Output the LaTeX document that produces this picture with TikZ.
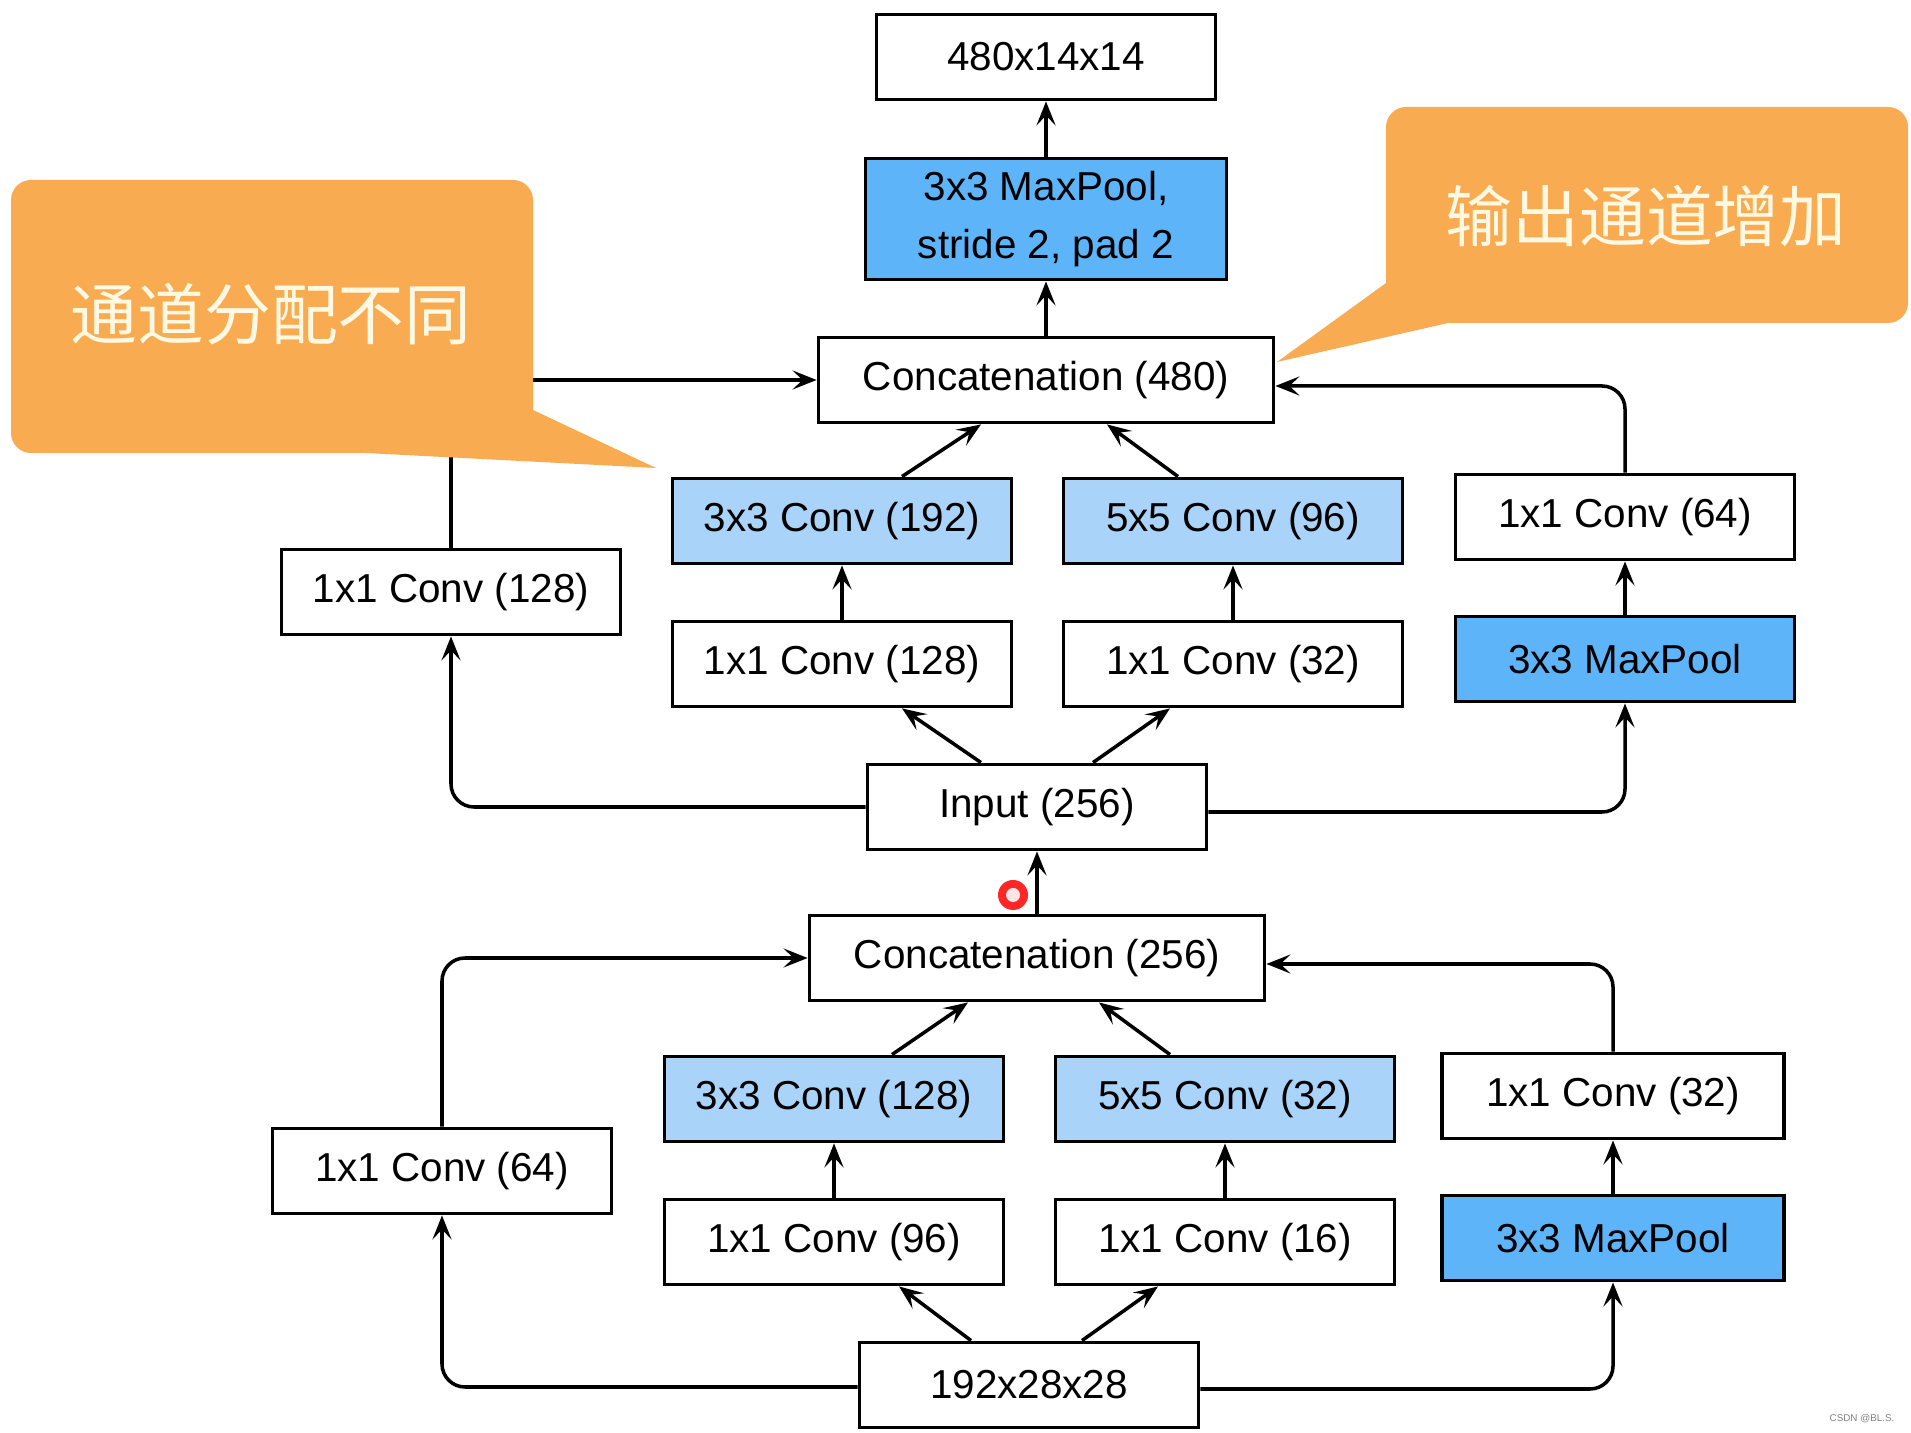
\documentclass[tikz,border=0pt]{standalone}
\usepackage{fontspec}
\setmainfont{Liberation Sans}
\newfontfamily\cjkfont{Noto Sans CJK SC}
\usetikzlibrary{arrows.meta}

\definecolor{poolblue}{HTML}{5DB4F9}
\definecolor{convblue}{HTML}{A9D3F8}
\definecolor{callorange}{HTML}{F8AB50}
\definecolor{callcream}{HTML}{FFF9E3}

\begin{document}
\begin{tikzpicture}[
        layerbox/.style={draw, line width=1.1pt, minimum width=3.39cm, minimum height=0.85cm,
            inner sep=0pt, font=\fontsize{11.5}{16.5}\selectfont},
        convbox/.style={layerbox, fill=convblue},
        poolbox/.style={layerbox, fill=poolblue},
        catbox/.style={layerbox, minimum width=4.55cm},
        arr/.style={line width=1pt, -{Stealth[length=2.4mm, width=1.9mm, inset=1mm]}},
        elbow/.style={arr, rounded corners=2.3mm},
        callout/.style={fill=callorange},
        calltext/.style={text=callcream, font=\cjkfont\fontsize{19}{19}\selectfont}
    ]
        \useasboundingbox (0, 0) rectangle (19.11, -14.33);

        \node [layerbox] (out) at (10.46, -0.57) {480x14x14};
        \node [poolbox, minimum width=3.61cm, minimum height=1.21cm, align=center] (pool2) at (10.46, -2.19) {3x3 MaxPool,\\stride 2, pad 2};
        \node [catbox] (cat2) at (10.46, -3.80) {Concatenation (480)};
        \node [convbox] (c3b) at (8.42, -5.21) {3x3 Conv (192)};
        \node [convbox] (c5b) at (12.33, -5.21) {5x5 Conv (96)};
        \node [layerbox] (p1b) at (16.25, -5.17) {1x1 Conv (64)};
        \node [layerbox] (a1b) at (4.51, -5.92) {1x1 Conv (128)};
        \node [layerbox] (r3b) at (8.42, -6.64) {1x1 Conv (128)};
        \node [layerbox] (r5b) at (12.33, -6.64) {1x1 Conv (32)};
        \node [poolbox] (mpb) at (16.25, -6.59) {3x3 MaxPool};
        \node [layerbox] (inb) at (10.37, -8.07) {Input (256)};

        \node [catbox] (cat1) at (10.37, -9.58) {Concatenation (256)};
        \node [convbox] (c3a) at (8.34, -10.99) {3x3 Conv (128)};
        \node [convbox] (c5a) at (12.25, -10.99) {5x5 Conv (32)};
        \node [layerbox, minimum width=3.42cm] (p1a) at (16.13, -10.96) {1x1 Conv (32)};
        \node [layerbox] (a1a) at (4.42, -11.71) {1x1 Conv (64)};
        \node [layerbox] (r3a) at (8.34, -12.42) {1x1 Conv (96)};
        \node [layerbox] (r5a) at (12.25, -12.42) {1x1 Conv (16)};
        \node [poolbox, minimum width=3.42cm] (mpa) at (16.13, -12.38) {3x3 MaxPool};
        \node [layerbox] (ina) at (10.29, -13.85) {192x28x28};

        \draw [arr] (pool2.north) -- (out.south);
        \draw [arr] (cat2.north) -- (pool2.south);
        \draw [arr] (a1b.north) |- (cat2.west);
        \draw [arr] ([xshift=6mm]c3b.north) -- ([xshift=-6.5mm]cat2.south);
        \draw [arr] ([xshift=-5.5mm]c5b.north) -- ([xshift=6.1mm]cat2.south);
        \draw [elbow] (p1b.north) |- ([yshift=-0.6mm]cat2.east);
        \draw [arr] (r3b.north) -- (c3b.south);
        \draw [arr] (r5b.north) -- (c5b.south);
        \draw [arr] (mpb.north) -- (p1b.south);
        \draw [arr] ([xshift=-5.6mm]inb.north) -- ([xshift=6mm]r3b.south);
        \draw [arr] ([xshift=5.6mm]inb.north) -- ([xshift=-6.3mm]r5b.south);
        \draw [elbow] (inb.west) -| (a1b.south);
        \draw [elbow] ([yshift=-0.5mm]inb.east) -| (mpb.south);
        \draw [arr] (cat1.north) -- (inb.south);

        \draw [elbow] (a1a.north) |- (cat1.west);
        \draw [arr] ([xshift=5.8mm]c3a.north) -- ([xshift=-6.9mm]cat1.south);
        \draw [arr] ([xshift=-5.5mm]c5a.north) -- ([xshift=6.2mm]cat1.south);
        \draw [elbow] (p1a.north) |- ([yshift=-0.6mm]cat1.east);
        \draw [arr] (r3a.north) -- (c3a.south);
        \draw [arr] (r5a.north) -- (c5a.south);
        \draw [arr] (mpa.north) -- (p1a.south);
        \draw [arr] ([xshift=-5.8mm]ina.north) -- ([xshift=6.5mm]r3a.south);
        \draw [arr] ([xshift=5.3mm]ina.north) -- ([xshift=-6.7mm]r5a.south);
        \draw [elbow] ([yshift=-0.2mm]ina.west) -| (a1a.south);
        \draw [elbow] ([yshift=-0.4mm]ina.east) -| (mpa.south);

        \fill [callout, rounded corners=2mm] (0.11, -1.80) rectangle (5.33, -4.53);
        \fill [callout] (5.33, -4.10) -- (6.56, -4.68) -- (3.66, -4.53) -- (3.66, -4.10) -- cycle;
        \node [calltext] (tagl) at (2.71, -3.14) {通道分配不同};

        \fill [callout, rounded corners=2mm] (13.86, -1.07) rectangle (19.08, -3.23);
        \fill [callout] (13.86, -2.83) -- (12.77, -3.62) -- (14.48, -3.23) -- (14.48, -2.83) -- cycle;
        \node [calltext] (tagr) at (16.46, -2.16) {输出通道增加};

        \fill [red!85!white] (10.13, -8.95) circle (0.15);
        \fill [white!90!red] (10.13, -8.95) circle (0.07);

        \node [text=gray, font=\fontsize{2.8}{3}\selectfont] (mark) at (18.62, -14.19) {CSDN @BL.S.};
    \end{tikzpicture}
\end{document}
